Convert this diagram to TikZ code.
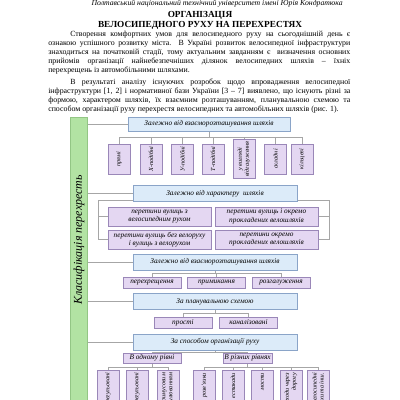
\documentclass[tikz,border=0pt]{standalone}
\usepackage{fontspec}
\setmainfont{Liberation Serif}
\usetikzlibrary{backgrounds}

\definecolor{grpfill}{HTML}{DCEBF9}
\definecolor{grpline}{HTML}{8AA4C8}
\definecolor{kindfill}{HTML}{E4D7F2}
\definecolor{kindline}{HTML}{9A87B8}
\definecolor{barfill}{HTML}{B2E3A3}
\definecolor{barline}{HTML}{93C685}
\definecolor{connline}{HTML}{A6A6A6}

\newcommand\bodyfont{\fontsize{5.6}{6.4}\selectfont}
\newcommand\headfont{\fontsize{5.5}{6.4}\selectfont\itshape}
\newcommand\titlefont{\fontsize{6.6}{7.5}\selectfont\bfseries}
\newcommand\grpfont{\fontsize{5.2}{6}\selectfont\itshape}
\newcommand\vfont{\fontsize{4.4}{5}\selectfont\itshape}
\newcommand\klasfont{\fontsize{8.5}{9}\selectfont\itshape}
\newcommand\jline[2][0pt]{\hbox to 7.55cm{\hskip#1 #2}}

\tikzset{
  txt/.style={inner sep=0pt, font=\bodyfont},
  grp/.style={draw=grpline, fill=grpfill, minimum width=4.1cm, minimum height=0.4cm,
    inner sep=1pt, font=\grpfont},
  kind/.style={draw=kindline, fill=kindfill, inner sep=1pt, align=center, font=\grpfont},
  vkind/.style={kind, rotate=90, minimum width=0.75cm, minimum height=0.55cm, font=\vfont},
  lkind/.style={kind, rotate=90, minimum width=1.5cm, minimum height=0.55cm,
    text width=1.35cm, align=flush right, font=\vfont},
  conn/.style={draw=connline, line width=0.5pt},
}

\begin{document}
\begin{tikzpicture}[x=0.025cm, y=-0.025cm]
\useasboundingbox (0,0) rectangle (400,400);
\clip (0,0) rectangle (400,400);

% page head and text
\node[anchor=base east, inner sep=0pt, font=\headfont] (head) at (343,6)
  {Полтавський національний технічний університет імені Юрія Кондратюка};
\node[anchor=base, inner sep=0pt, font=\titlefont] (title1) at (200,18) {ОРГАНІЗАЦІЯ};
\node[anchor=base, inner sep=0pt, font=\titlefont] (title2) at (200,28) {ВЕЛОСИПЕДНОГО РУХУ НА ПЕРЕХРЕСТЯХ};

\node[txt, anchor=base west] (pa1) at (48,37) {\jline[0.55cm]{Створення комфортних умов для велосипедного руху на сьогоднішній день є}};
\node[txt, anchor=base west] (pa2) at (48,46) {\jline{ознакою успішного розвитку міста. В Україні розвиток велосипедної інфраструктури}};
\node[txt, anchor=base west] (pa3) at (48,55) {\jline{знаходиться на початковій стадії, тому актуальним завданням є \ визначення основних}};
\node[txt, anchor=base west] (pa4) at (48,64) {\jline{прийомів організації найнебезпечніших ділянок велосипедних шляхів – їхніх}};
\node[txt, anchor=base west] (pa5) at (48,73) {перехрещень із автомобільними шляхами.};

\node[txt, anchor=base west] (pb1) at (48,84.5) {\jline[0.55cm]{В результаті аналізу існуючих розробок щодо впровадження велосипедної}};
\node[txt, anchor=base west] (pb2) at (48,93.5) {\jline{інфраструктури [1, 2] і нормативної бази України [3 – 7] виявлено, що існують різні за}};
\node[txt, anchor=base west] (pb3) at (48,102.5) {\jline{формою, характером шляхів, їх взаємним розташуванням, планувальною схемою та}};
\node[txt, anchor=base west] (pb4) at (48,111.5) {способом організації руху перехрестя велосипедних та автомобільних шляхів (рис. 1).};

% classification bar
\node[draw=barline, fill=barfill, minimum width=0.425cm, minimum height=7.575cm, inner sep=0pt] (bar) at (78.5,268.5) {};
\node[rotate=90, inner sep=0pt, font=\klasfont] (klas) at (79,240) {Класифікація перехресть};

% group boxes
\node[grp, minimum width=4.05cm, minimum height=0.35cm] (g1) at (209,124) {Залежно від взаєморозташування шляхів};
\node[grp] (g2) at (215,193.5) {Залежно від характеру \ шляхів};
\node[grp] (g3) at (215,262) {Залежно від взаєморозташування шляхів};
\node[grp] (g4) at (215,301.5) {За планувальною схемою};
\node[grp] (g5) at (215,342) {За способом організації руху};

% by mutual position
\node[vkind] (t1) at (119,159) {прямі};
\node[vkind] (t2) at (151,159) {Х-подібні};
\node[vkind] (t3) at (182.5,159) {У-подібні};
\node[vkind] (t4) at (213,159) {Т-подібні};
\node[vkind] (t5) at (244,159) {у вигляді\\відгалуження};
\node[vkind] (t6) at (275.5,159) {складні};
\node[vkind] (t7) at (302,159) {кільцеві};

% by character of paths
\node[kind, minimum width=2.575cm, minimum height=0.475cm] (c1) at (159.5,216.5) {перетини вулиць з\\велосипедним рухом};
\node[kind, minimum width=2.575cm, minimum height=0.475cm] (c2) at (266.5,216.5) {перетини вулиць і окремо\\прокладених велошляхів};
\node[kind, minimum width=2.575cm, minimum height=0.475cm] (c3) at (159.5,239.5) {перетини вулиць без велоруху\\і вулиць з велорухом};
\node[kind, minimum width=2.575cm, minimum height=0.475cm] (c4) at (266.5,239.5) {перетини окремо\\прокладених велошляхів};
\coordinate (cl) at (98,200);
\coordinate (cr) at (329,200);

% by layout
\node[kind, minimum width=1.45cm, minimum height=0.275cm] (r1) at (152,282.5) {перехрещення};
\node[kind, minimum width=1.45cm, minimum height=0.275cm] (r2) at (216.5,282.5) {примикання};
\node[kind, minimum width=1.45cm, minimum height=0.275cm] (r3) at (281,282.5) {розгалуження};

\node[kind, minimum width=1.45cm, minimum height=0.275cm] (p1) at (183,322.5) {прості};
\node[kind, minimum width=1.45cm, minimum height=0.275cm] (p2) at (248.5,322.5) {каналізовані};

% by traffic organisation
\node[kind, minimum width=1.45cm, minimum height=0.25cm] (s1) at (152,358) {В одному рівні};
\node[kind, minimum width=1.225cm, minimum height=0.25cm] (s2) at (247.5,358) {В різних рівнях};

\node[lkind] (a1) at (108,400) {нерегульовані};
\node[lkind] (a2) at (137,400) {регульовані};
\node[lkind] (a3) at (168,400) {з примусовим\\регулюванням};
\node[lkind] (b1) at (204.5,400) {розв'язки};
\node[lkind] (b2) at (233,400) {естакади};
\node[lkind] (b3) at (262.5,400) {мости};
\node[lkind] (b4) at (291,400) {переходи через\\дорогу};
\node[lkind] (b5) at (318,400) {велосипедні\\шляхи та інш.};

% connectors
\begin{pgfonlayer}{background}
\foreach \g in {g1,g2,g3,g4,g5}
  \draw[conn] (bar.east |- \g.west) -- (\g.west);
\foreach \k in {t1,t2,t3,t4,t5,t6,t7}
  \draw[conn] (g1.south) -- ++(0,6) -| (\k.east);
\draw[conn] (cl) -- (cr);
\draw[conn] (c1.west) -| (cl);
\draw[conn] (c3.west) -| (cl);
\draw[conn] (c2.east) -| (cr);
\draw[conn] (c4.east) -| (cr);
\foreach \k in {r1,r2,r3}
  \draw[conn] (g3.south) -- ++(0,3) -| (\k.north);
\foreach \k in {p1,p2}
  \draw[conn] (g4.south) -- ++(0,4) -| (\k.north);
\foreach \k in {s1,s2}
  \draw[conn] (g5.south) -- ++(0,2) -| (\k.north);
\foreach \k in {a1,a2,a3}
  \draw[conn] (s1.south) -- ++(0,4) -| (\k.east);
\foreach \k in {b1,b2,b3,b4,b5}
  \draw[conn] (s2.south) -- ++(0,4) -| (\k.east);
\end{pgfonlayer}

\end{tikzpicture}
\end{document}
